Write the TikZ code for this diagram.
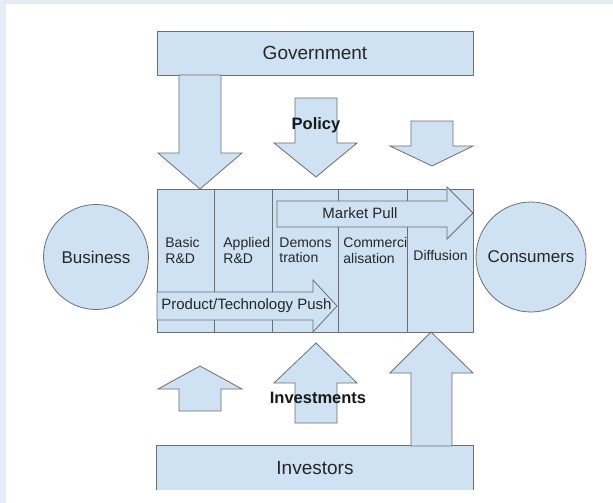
\documentclass[tikz,border=0pt]{standalone}
\usepackage{fontspec}
\setmainfont{Liberation Sans}
\definecolor{boxblue}{HTML}{CFE2F3}
\definecolor{edgegray}{HTML}{6E6E6E}
\definecolor{framebg}{HTML}{E3ECF7}
\begin{document}
\begin{tikzpicture}[x=1pt,y=-1pt,line width=0.8pt,
	block/.style={draw=edgegray, fill=boxblue, text=black!85},
	stagetext/.style={font=\fontsize{14}{15.5}\selectfont, align=left, inner sep=0pt, anchor=west, text=black!85},
	flowtext/.style={font=\fontsize{15}{17}\selectfont, inner sep=0pt, text=black!85},
	boldtext/.style={font=\fontsize{16.5}{18}\selectfont\bfseries, inner sep=0pt, text=black!90}]
	\useasboundingbox (0,0) rectangle (613,503);
	\fill[framebg] (0,0) rectangle (613,503);
	\fill[white] (6,4) rectangle (613,503);
	% actors
	\node (gov) at (315,53)	[block, minimum width=316pt, minimum height=44pt, font=\fontsize{19}{21}\selectfont]	{Government};
	\node (inv) at (315,468)	[fill=boxblue, text=black!85, minimum width=316pt, minimum height=44pt, font=\fontsize{19}{21}\selectfont]	{Investors};
	\draw[edgegray] (inv.south west) |- (inv.north east) -- (inv.south east);
	\node (biz) at (96,257)	[block, circle, minimum size=105pt, font=\fontsize{17}{19}\selectfont]	{Business};
	\node (con) at (531,257)	[block, circle, minimum size=110pt, font=\fontsize{17}{19}\selectfont]	{Consumers};
	% stages
	\node (stages) at (315,260.5)	[block, minimum width=316pt, minimum height=143pt]	{};
	\foreach \x in {214,272,338,407}
		\draw[edgegray] (\x,189) -- (\x,332);
	\node (basic) at (165,250.5)	[stagetext]	{Basic\\R\&D};
	\node (applied) at (223,250.5)	[stagetext]	{Applied\\R\&D};
	\node (demo) at (279,250.5)	[stagetext]	{Demons\\tration};
	\node (comm) at (343,250.5)	[stagetext]	{Commerci\\alisation};
	\node (diff) at (413,255)	[stagetext]	{Diffusion};
	% pull and push
	\draw[block] (277,201) -- (447,201) -- (447,187) -- (473,213) -- (447,239) -- (447,227) -- (277,227) -- cycle;
	\node (pull) at (360,213)	[flowtext]	{Market Pull};
	\draw[block] (157,292) -- (313,292) -- (313,280) -- (337,306) -- (313,332) -- (313,320) -- (157,320) -- cycle;
	\node (push) at (161,306)	[flowtext, anchor=west]	{Product/Technology Push};
	% policy arrows
	\draw[block] (179,75) -- (221,75) -- (221,153) -- (242,153) -- (200,189) -- (158,153) -- (179,153) -- cycle;
	\draw[block] (295,98) -- (337,98) -- (337,143) -- (357,143) -- (316,177) -- (274,143) -- (295,143) -- cycle;
	\draw[block] (411,121) -- (453,121) -- (453,146) -- (473,146) -- (432,166) -- (390,146) -- (411,146) -- cycle;
	\node (policy) at (316,125)	[boldtext]	{Policy};
	% investment arrows
	\draw[block] (179,411) -- (221,411) -- (221,389) -- (242,389) -- (200,366) -- (158,389) -- (179,389) -- cycle;
	\draw[block] (295,423) -- (337,423) -- (337,383) -- (357,383) -- (316,343) -- (274,383) -- (295,383) -- cycle;
	\draw[block] (411,446) -- (452,446) -- (452,373) -- (473,373) -- (431,332) -- (390,373) -- (411,373) -- cycle;
	\node (invest) at (318,398)	[boldtext]	{Investments};
\end{tikzpicture}
\end{document}
